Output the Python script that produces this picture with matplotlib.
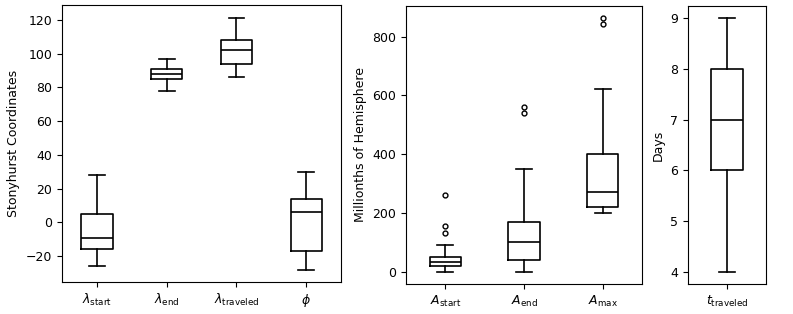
import matplotlib
matplotlib.use("Agg")
import matplotlib.pyplot as plt

# box statistics: (whislo, q1, med, q3, whishi, fliers)
coord_labels = [r"$\lambda_{\rm start}$", r"$\lambda_{\rm end}$",
                r"$\lambda_{\rm traveled}$", r"$\phi$"]
coord_whislo = [-26, 78, 86, -28]
coord_q1 = [-16, 85, 94, -17]
coord_med = [-9, 88, 102, 6]
coord_q3 = [5, 91, 108, 14]
coord_whishi = [28, 97, 121, 30]
coord_fliers = [[], [], [], []]

area_labels = [r"$A_{\rm start}$", r"$A_{\rm end}$", r"$A_{\rm max}$"]
area_whislo = [0, 0, 200]
area_q1 = [19, 40, 220]
area_med = [33, 101, 270]
area_q3 = [50, 170, 400]
area_whishi = [90, 350, 620]
area_fliers = [[132, 155, 260], [540, 560], [843, 862]]

time_labels = [r"$t_{\rm traveled}$"]
time_whislo = [4]
time_q1 = [6]
time_med = [7]
time_q3 = [8]
time_whishi = [9]
time_fliers = [[]]


def _stats(lo, q1, med, q3, hi, fl):
    return [dict(whislo=a, q1=b, med=c, q3=d, whishi=e, fliers=f)
            for a, b, c, d, e, f in zip(lo, q1, med, q3, hi, fl)]


def _draw(ax, stats, labels, width, ylabel):
    ax.bxp(stats, widths=width, showfliers=True,
           boxprops=dict(color="black", lw=1.2),
           whiskerprops=dict(color="black", lw=1.2),
           capprops=dict(color="black", lw=1.2),
           medianprops=dict(color="black", lw=1.2),
           flierprops=dict(marker="o", ms=3.5, mfc="none", mec="black", mew=1.0))
    ax.set_xticks(range(1, len(labels) + 1))
    ax.set_xticklabels(labels)
    ax.set_ylabel(ylabel, fontsize=9)
    ax.tick_params(labelsize=9)


fig = plt.figure(figsize=(7.93, 3.14), dpi=100)
ax0 = fig.add_axes([0.0782, 0.101, 0.352, 0.8815])
ax1 = fig.add_axes([0.512, 0.0946, 0.2976, 0.8874])
ax2 = fig.add_axes([0.8676, 0.0946, 0.0984, 0.8874])

_draw(ax0, _stats(coord_whislo, coord_q1, coord_med, coord_q3, coord_whishi, coord_fliers),
      coord_labels, 0.45, "Stonyhurst Coordinates")
_draw(ax1, _stats(area_whislo, area_q1, area_med, area_q3, area_whishi, area_fliers),
      area_labels, 0.4, "Millionths of Hemisphere")
_draw(ax2, _stats(time_whislo, time_q1, time_med, time_q3, time_whishi, time_fliers),
      time_labels, 0.4, "Days")

ax1.set_yticks([0, 200, 400, 600, 800])

fig.savefig("out.png", dpi=100, facecolor="white")
